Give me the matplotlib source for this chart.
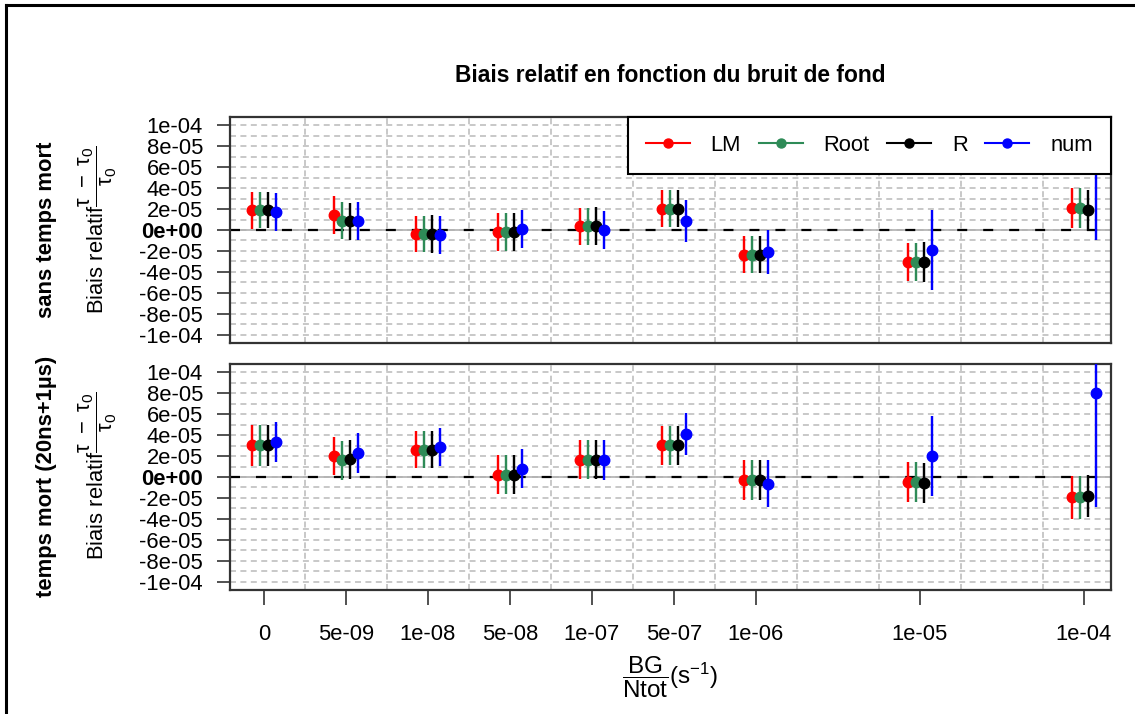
import matplotlib
matplotlib.use("Agg")
import matplotlib.pyplot as plt
from matplotlib import font_manager as fm
from matplotlib.lines import Line2D
import numpy as np

# ---------------- data ----------------
categories = ["0", "5e-09", "1e-08", "5e-08", "1e-07", "5e-07", "1e-06", "1e-05", "1e-04"]
bg_pos = [1, 2, 3, 4, 5, 6, 7, 9, 11]
methods = ["LM", "Root", "R", "num"]
panel_labels = ["sans temps mort", "temps mort (20ns+1µs)"]

# panel 1: sans temps mort
top_lm = [1.90e-5, 1.45e-5, -0.38e-5, -0.22e-5, 0.35e-5, 2.04e-5, -2.36e-5, -3.08e-5, 2.10e-5]
top_root = [1.90e-5, 0.88e-5, -0.38e-5, -0.22e-5, 0.35e-5, 2.04e-5, -2.36e-5, -3.08e-5, 2.10e-5]
top_r = [1.90e-5, 0.82e-5, -0.38e-5, -0.22e-5, 0.41e-5, 2.04e-5, -2.36e-5, -3.08e-5, 1.89e-5]
top_num = [1.75e-5, 0.88e-5, -0.47e-5, 0.09e-5, 0.00e-5, 0.88e-5, -2.10e-5, -1.89e-5, 8.50e-5]
top_lm_err = [1.76e-5, 1.80e-5, 1.75e-5, 1.80e-5, 1.80e-5, 1.78e-5, 1.78e-5, 1.84e-5, 1.92e-5]
top_root_err = [1.72e-5, 1.78e-5, 1.75e-5, 1.80e-5, 1.80e-5, 1.78e-5, 1.78e-5, 1.84e-5, 1.92e-5]
top_r_err = [1.72e-5, 1.78e-5, 1.83e-5, 1.80e-5, 1.80e-5, 1.80e-5, 1.78e-5, 1.90e-5, 1.97e-5]
top_num_err = [1.80e-5, 1.80e-5, 1.80e-5, 1.80e-5, 1.80e-5, 1.98e-5, 2.14e-5, 3.84e-5, 9.50e-5]

# panel 2: temps mort (20ns+1us)
bot_lm = [3.02e-5, 2.00e-5, 2.60e-5, 0.22e-5, 1.65e-5, 3.02e-5, -0.32e-5, -0.48e-5, -1.94e-5]
bot_root = [3.02e-5, 1.59e-5, 2.60e-5, 0.22e-5, 1.65e-5, 3.02e-5, -0.32e-5, -0.48e-5, -1.94e-5]
bot_r = [3.02e-5, 1.68e-5, 2.60e-5, 0.22e-5, 1.65e-5, 3.02e-5, -0.32e-5, -0.57e-5, -1.84e-5]
bot_num = [3.33e-5, 2.30e-5, 2.86e-5, 0.79e-5, 1.65e-5, 4.13e-5, -0.63e-5, 2.00e-5, 8.00e-5]
bot_lm_err = [1.93e-5, 1.84e-5, 1.78e-5, 1.87e-5, 1.84e-5, 1.90e-5, 1.90e-5, 1.94e-5, 2.06e-5]
bot_root_err = [1.93e-5, 1.84e-5, 1.78e-5, 1.87e-5, 1.84e-5, 1.90e-5, 1.90e-5, 1.94e-5, 2.06e-5]
bot_r_err = [1.93e-5, 1.84e-5, 1.78e-5, 1.87e-5, 1.84e-5, 1.90e-5, 1.90e-5, 1.94e-5, 2.00e-5]
bot_num_err = [1.90e-5, 1.87e-5, 1.78e-5, 1.84e-5, 1.90e-5, 2.03e-5, 2.25e-5, 3.81e-5, 10.86e-5]

yticks = [-1e-4, -8e-5, -6e-5, -4e-5, -2e-5, 0.0, 2e-5, 4e-5, 6e-5, 8e-5, 1e-4]

# ---------------- style ----------------
colors = ["#FF0000", "#2E8B57", "#000000", "#0000FF"]
offsets = [-0.15, -0.05, 0.05, 0.15]
W, H = 1135, 714
PX = 0.72  # points per pixel at dpi 100


def has_font(name):
    try:
        fm.findfont(fm.FontProperties(family=name), fallback_to_default=False)
        return True
    except Exception:
        return False


base = "Liberation Sans"
narrow = "Liberation Sans Narrow" if has_font("Liberation Sans Narrow") else base
plt.rcParams["font.family"] = [base, "DejaVu Sans"]
plt.rcParams["mathtext.fontset"] = "custom"
plt.rcParams["mathtext.rm"] = base
plt.rcParams["mathtext.it"] = base
plt.rcParams["mathtext.bf"] = base + ":bold"
plt.rcParams["lines.scale_dashes"] = False

FS = 22 * PX

fig = plt.figure(figsize=(W / 100, H / 100), dpi=100)
fig.patch.set_facecolor("white")

# outer frame (left + top)
fig.add_artist(Line2D([6 / W, 6 / W], [0, 1 - 5 / H], color="black", lw=2.2, transform=fig.transFigure))
fig.add_artist(Line2D([6 / W, 1], [1 - 5 / H, 1 - 5 / H], color="black", lw=2.2, transform=fig.transFigure))

L, R_ = 230, 1111
ax1 = fig.add_axes([L / W, 1 - 343 / H, (R_ - L) / W, (343 - 117) / H])
ax2 = fig.add_axes([L / W, 1 - 590 / H, (R_ - L) / W, (590 - 364) / H])

panels = [
    (ax1, [top_lm, top_root, top_r, top_num], [top_lm_err, top_root_err, top_r_err, top_num_err]),
    (ax2, [bot_lm, bot_root, bot_r, bot_num], [bot_lm_err, bot_root_err, bot_r_err, bot_num_err]),
]

grid_y = np.arange(-10, 11) * 1e-5
grid_x = np.arange(1.5, 11, 1.0)

for ax, vals, errs in panels:
    ax.set_xlim(0.585, 11.33)
    ax.set_ylim(-1.08e-4, 1.08e-4)
    for gy in grid_y:
        ax.axhline(gy, color="#C8C8C8", lw=1.4, dashes=(4.3, 3.2), zorder=1)
    for gx in grid_x:
        ax.axvline(gx, color="#C8C8C8", lw=1.4, dashes=(4.3, 3.2), zorder=1)
    ax.axhline(0, color="#B0B0B0", lw=1.2, zorder=1.5)
    ax.axhline(0, color="black", lw=1.6, dashes=(7.2, 11.5), zorder=1.6)
    for k in range(4):
        xs = np.array(bg_pos, dtype=float) + offsets[k]
        ax.errorbar(xs, vals[k], yerr=errs[k], fmt="o", color=colors[k], ms=10.5 * PX,
                    elinewidth=2.4 * PX, capsize=0, zorder=3)
    for sp in ax.spines.values():
        sp.set_color("#333333")
        sp.set_linewidth(1.6)
    ax.set_yticks(yticks)
    ax.set_yticklabels([f"{v:.0e}" for v in yticks])
    ax.tick_params(axis="y", length=13 * PX, width=1.2, color="#333333", pad=10, labelsize=FS,
                   direction="out")
    for t, v in zip(ax.get_yticklabels(), yticks):
        if v == 0:
            t.set_fontweight("bold")

ax1.set_xticks([])
ax2.set_xticks(bg_pos)
ax2.set_xticklabels(categories, fontfamily=narrow, fontsize=FS)
ax2.tick_params(axis="x", length=15 * PX, width=1.2, color="#333333", pad=14)

# legend
handles = [Line2D([], [], color=c, marker="o", lw=1.5, ms=9 * PX) for c in colors]
leg = ax1.legend(handles, methods, loc="upper right", bbox_to_anchor=(1, 1), ncol=4,
                 fontsize=FS, frameon=True, fancybox=False, framealpha=1, edgecolor="black",
                 borderaxespad=0, handlelength=2.0, handletextpad=0.95, columnspacing=0.8,
                 borderpad=0.82)
leg.get_frame().set_linewidth(1.5)
leg.set_zorder(10)

# title
fig.text(670.5 / W, 1 - 82 / H, "Biais relatif en fonction du bruit de fond", ha="center",
         va="baseline", fontsize=FS * 1.035, fontweight="bold")

# y labels
ylab = r"Biais relatif$\dfrac{\mathrm{\tau\ -\ \tau_0}}{\mathrm{\tau_0}}$"
fig.text(47 / W, 1 - 230 / H, panel_labels[0], rotation=90, ha="center", va="center",
         fontsize=FS, fontweight="bold")
fig.text(98 / W, 1 - 230 / H, ylab, rotation=90, ha="center", va="center", fontsize=FS)
fig.text(47 / W, 1 - 476 / H, panel_labels[1], rotation=90, ha="center", va="center",
         fontsize=FS, fontweight="bold")
fig.text(98 / W, 1 - 476 / H, ylab, rotation=90, ha="center", va="center", fontsize=FS)

# x label
fig.text(670.5 / W, 1 - 677 / H, r"$\dfrac{\mathrm{BG}}{\mathrm{Ntot}}(\mathrm{s}^{-1})$",
         ha="center", va="center", fontsize=FS * 1.1, fontfamily=narrow)

fig.savefig("out.png", dpi=100, facecolor="white")
